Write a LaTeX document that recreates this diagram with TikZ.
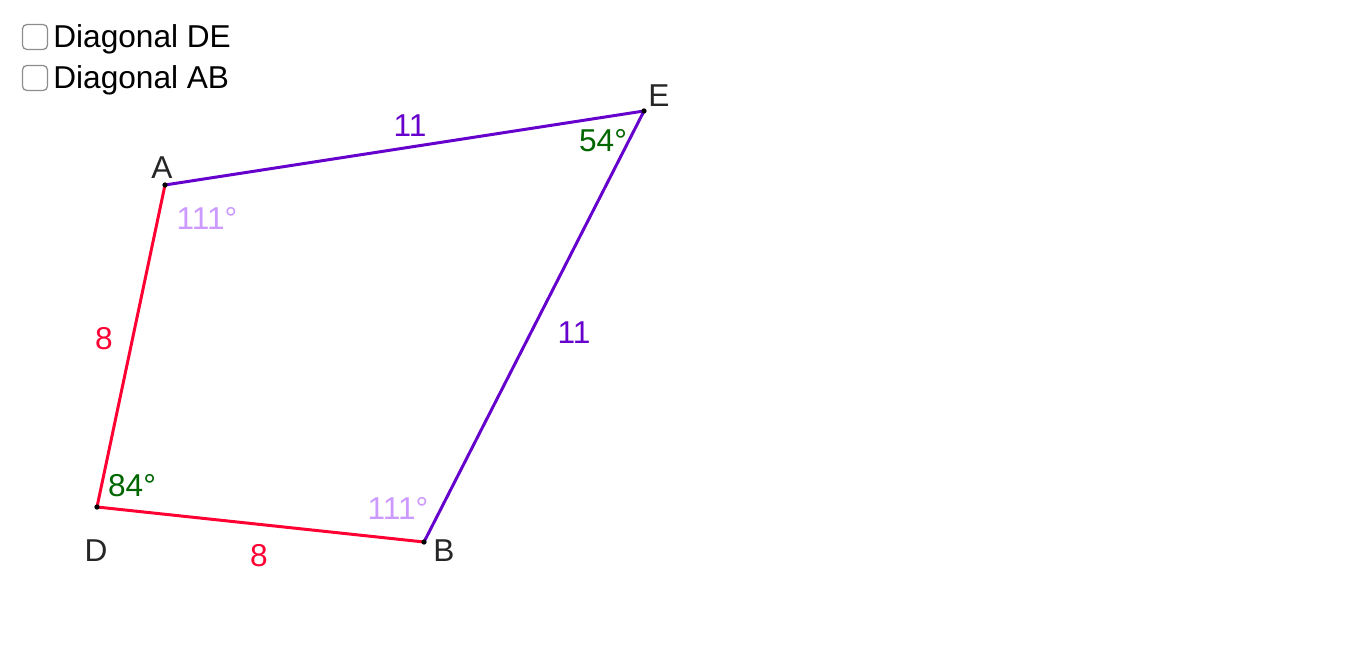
\documentclass[tikz,border=0pt]{standalone}
\usepackage{fontspec}
\setmainfont{Liberation Sans}
\usetikzlibrary{positioning}
\definecolor{sidered}{HTML}{FF0033}
\definecolor{sidepurple}{HTML}{6600CC}
\definecolor{anglelilac}{HTML}{CC99FF}
\definecolor{anglegreen}{HTML}{006600}
\definecolor{ptgray}{HTML}{262626}
\tikzset{
	side/.style={
		line width=1.7pt,
		line cap=round,
	},
	vertex/.style={
		circle,
		fill=black,
		inner sep=0pt,
		minimum size=3pt,
	},
	txt/.style={
		font=\fontsize{18}{21}\selectfont,
		inner sep=0pt,
	},
	ptlabel/.style={
		txt,
		text=ptgray,
	},
	chkbox/.style={
		rectangle,
		draw=black!45,
		line width=0.7pt,
		rounded corners=2.5pt,
		minimum size=0.5cm,
		inner sep=0pt,
		fill=white,
	},
}
\begin{document}
\begin{tikzpicture}[x=0.02cm, y=-0.02cm]
	\useasboundingbox (0,0) rectangle (1347,671);

	% check boxes
	\node [chkbox] (boxDE) at (35,37) {};
	\node [chkbox] (boxAB) at (35,78) {};
	\node [txt, anchor=base west] (capDE) at (53,48) {Diagonal DE};
	\node [txt, anchor=base west] (capAB) at (53,89) {Diagonal AB};

	% quadrilateral
	\coordinate (A) at (165,185);
	\coordinate (E) at (644,111);
	\coordinate (B) at (424,542);
	\coordinate (D) at (97,507);

	\draw [side, sidepurple] (A) -- (E);
	\draw [side, sidepurple] (E) -- (B);
	\draw [side, sidered] (B) -- (D);
	\draw [side, sidered] (D) -- (A);

	\foreach \p in {A,E,B,D}
		\node [vertex] (dot\p) at (\p) {};

	% vertex names
	\node [ptlabel] (nameA) at (162,168) {A};
	\node [ptlabel] (nameE) at (659,96) {E};
	\node [ptlabel] (nameB) at (444,551) {B};
	\node [ptlabel] (nameD) at (96,551) {D};

	% side lengths
	\node [txt, text=sidepurple] (lenAE) at (410,126) {11};
	\node [txt, text=sidepurple] (lenEB) at (574,333) {11};
	\node [txt, text=sidered] (lenAD) at (104,339) {8};
	\node [txt, text=sidered] (lenDB) at (259,556) {8};

	% angles
	\node [txt, text=anglelilac] (angA) at (207,218) {111°};
	\node [txt, text=anglegreen] (angE) at (603,141) {54°};
	\node [txt, text=anglegreen] (angD) at (132,486) {84°};
	\node [txt, text=anglelilac] (angB) at (398,508) {111°};
\end{tikzpicture}
\end{document}
